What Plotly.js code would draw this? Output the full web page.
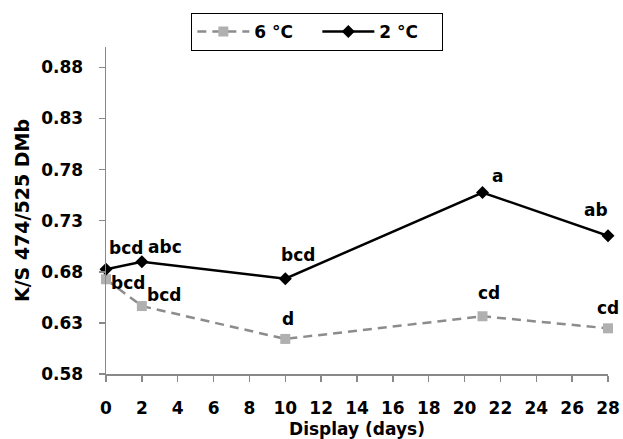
<!DOCTYPE html>
<html>
<head>
<meta charset="utf-8">
<script src="https://cdn.plot.ly/plotly-3.0.1.min.js"></script>
<style>html,body{margin:0;padding:0;background:#fff;}</style>
</head>
<body>
<div id="chart" style="width:623px;height:439px;"></div>
<script>
// Data
const days = [0, 2, 10, 21, 28];
const series6Name = "6 °C";
const series6 = [0.6727, 0.6465, 0.6143, 0.6365, 0.6247];
const series6Letters = ["bcd", "bcd", "d", "cd", "cd"];
const series2Name = "2 °C";
const series2 = [0.6824, 0.6899, 0.6733, 0.7576, 0.7153];
const series2Letters = ["bcd", "abc", "bcd", "a", "ab"];
const yTicks = [0.58, 0.63, 0.68, 0.73, 0.78, 0.83, 0.88];
const xTicks = [0, 2, 4, 6, 8, 10, 12, 14, 16, 18, 20, 22, 24, 26, 28];
const xTitle = "Display (days)";
const yTitle = "K/S 474/525 DMb";

// Label offsets (px), styling only
const off6 = [[22, -4], [22, 11], [3, 20], [6, 23], [0, 20]];
const off2 = [[20, 21], [23, 15], [13, 24], [15, 17], [-12, 26]];

const FONT = "DejaVu Sans";
const baseFont = {family: FONT, size: 17, color: "#000", weight: "bold"};

const traces = [
  {
    x: days, y: series6, name: series6Name, type: "scatter", mode: "lines+markers",
    line: {color: "#8c8c8c", width: 2.5, dash: "9px,6px"},
    marker: {symbol: "square", size: 10, color: "#b0b0b0"},
    cliponaxis: false
  },
  {
    x: days, y: series2, name: series2Name, type: "scatter", mode: "lines+markers",
    line: {color: "#000", width: 2.5},
    marker: {symbol: "diamond", size: 10, color: "#000"},
    cliponaxis: false
  }
];

const annotations = [];
days.forEach((d, i) => {
  annotations.push({x: d, y: series6[i], text: series6Letters[i], showarrow: false,
    xshift: off6[i][0], yshift: off6[i][1], font: baseFont, xanchor: "center", yanchor: "middle"});
  annotations.push({x: d, y: series2[i], text: series2Letters[i], showarrow: false,
    xshift: off2[i][0], yshift: off2[i][1], font: baseFont, xanchor: "center", yanchor: "middle"});
});

const layout = {
  width: 623, height: 439,
  margin: {l: 106, r: 15, t: 47, b: 65, pad: 0},
  paper_bgcolor: "#fff", plot_bgcolor: "#fff",
  font: baseFont,
  showlegend: true,
  legend: {
    orientation: "h", x: 0.421, xanchor: "center", y: 1.104, yanchor: "top",
    bordercolor: "#000", borderwidth: 1, bgcolor: "#fff",
    font: baseFont, itemwidth: 52, entrywidth: 58, entrywidthmode: "pixels", tracegroupgap: 0
  },
  xaxis: {
    range: [0, 28], tickvals: xTicks, ticktext: xTicks.map(String),
    showline: true, linecolor: "#898989", linewidth: 1.5,
    ticks: "outside", ticklen: 6, tickcolor: "#898989", tickwidth: 1.5,
    showgrid: false, zeroline: false, ticklabelstandoff: 12,
    tickfont: baseFont,
    title: {text: xTitle, font: baseFont, standoff: 6}
  },
  yaxis: {
    range: [0.58, 0.90], tickvals: yTicks, ticktext: yTicks.map(v => v.toFixed(2)),
    showline: true, linecolor: "#898989", linewidth: 1.5,
    ticks: "outside", ticklen: 6, tickcolor: "#898989", tickwidth: 1.5,
    showgrid: false, zeroline: false, ticklabelstandoff: 12,
    tickfont: baseFont,
    title: {text: yTitle, font: Object.assign({}, baseFont, {size: 19}), standoff: 6}
  },
  annotations: annotations
};

Plotly.newPlot("chart", traces, layout, {displayModeBar: false, staticPlot: true});
</script>
</body>
</html>
